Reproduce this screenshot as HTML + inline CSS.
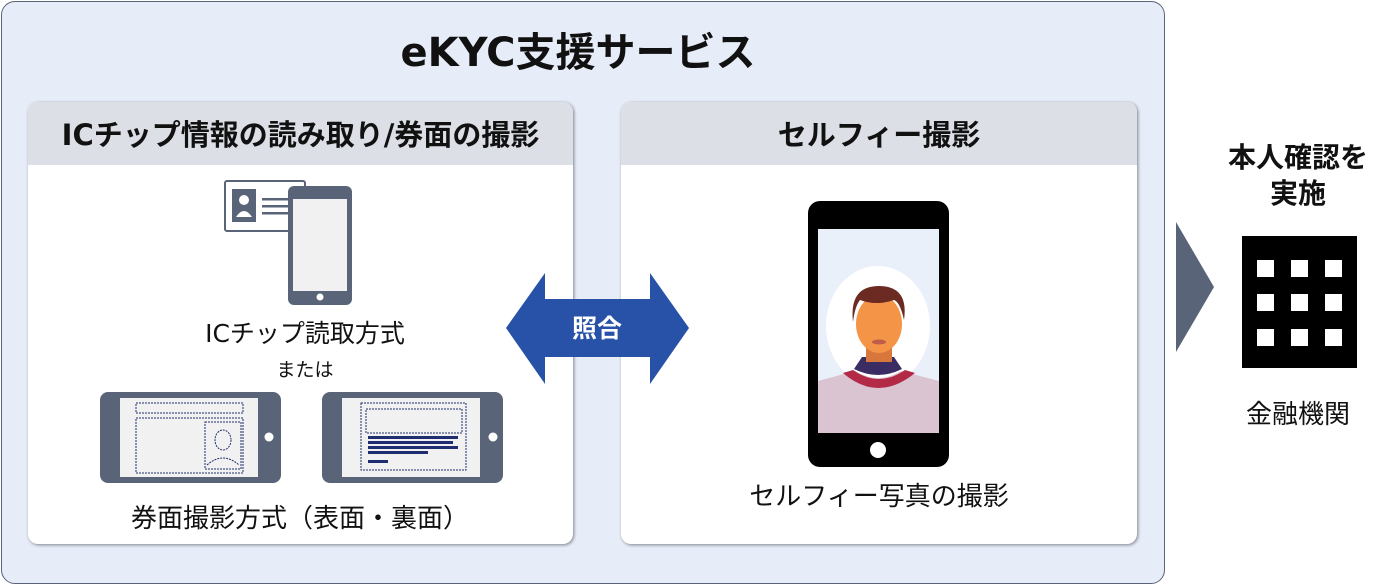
<!DOCTYPE html>
<html><head><meta charset="utf-8"><style>
body{margin:0;width:1394px;height:586px;background:#fff;position:relative;overflow:hidden;font-family:"DejaVu Sans","Noto Sans CJK JP",sans-serif;color:#111}
.abs{position:absolute}
.outer{left:1px;top:1px;width:1162px;height:581px;background:#e6ecf8;border:1.5px solid #5a6478;border-radius:14px}
.panel{background:#fff;border-radius:10px;box-shadow:1px 1px 3px rgba(0,0,0,.45);overflow:hidden;top:102px;height:442px}
.hdr{height:63px;background:#dcdfe5;text-align:center;line-height:66px;font-weight:bold;font-size:29px;white-space:nowrap}
.t{text-align:center;white-space:nowrap}
</style></head><body>
<div class="abs outer"></div>
<div class="abs t" style="left:328px;width:500px;top:20px;font-size:40px;font-weight:bold">eKYC支援サービス</div>
<div class="abs panel" style="left:28px;width:545px"><div class="hdr">ICチップ情報の読み取り/券面の撮影</div></div>
<div class="abs panel" style="left:621px;width:516px"><div class="hdr">セルフィー撮影</div></div>

<svg class="abs" style="left:0;top:0" width="1394" height="586">
<rect x="225" y="181" width="80" height="50" rx="2" fill="#fff" stroke="#5a6478" stroke-width="2"/>
<rect x="232" y="189" width="24" height="33" fill="#5a6478"/>
<circle cx="244" cy="200" r="5" fill="#fff"/><path d="M236 217 q8 -12 16 0z" fill="#fff"/>
<rect x="262" y="198" width="28" height="2.5" fill="#5a6478"/><rect x="262" y="205" width="28" height="2.5" fill="#5a6478"/><rect x="262" y="212" width="28" height="2.5" fill="#5a6478"/>
<rect x="288" y="186" width="64" height="119" rx="6" fill="#5a6478"/>
<rect x="293" y="199" width="54" height="92" fill="#f1f1f1"/>
<circle cx="320" cy="297" r="3.5" fill="#fff"/>
<rect x="100" y="392" width="181" height="91" rx="8" fill="#5a6478"/>
<rect x="120" y="398" width="138" height="79" fill="#f1f1f1"/>
<circle cx="269" cy="437" r="4.5" fill="#fff"/>
<g fill="none" stroke="#1f2e70" stroke-dasharray="2 1" stroke-width="1">
<rect x="136" y="403" width="107" height="10"/><rect x="136" y="418" width="107" height="55"/>
<rect x="205" y="422" width="36" height="47"/><ellipse cx="223" cy="440" rx="8" ry="10"/><path d="M207 465 q16 -14 32 0"/>
</g>
<rect x="322" y="392" width="181" height="91" rx="8" fill="#5a6478"/>
<rect x="342" y="398" width="138" height="79" fill="#f1f1f1"/>
<circle cx="493" cy="437" r="4.5" fill="#fff"/>
<g fill="none" stroke="#1f2e70" stroke-dasharray="2 1" stroke-width="1">
<rect x="361" y="403" width="105" height="67"/><rect x="366" y="409" width="96" height="24"/>
</g>
<g fill="#1f2e70"><rect x="368" y="436" width="90" height="3"/><rect x="368" y="441" width="85" height="3"/><rect x="368" y="446" width="90" height="3"/><rect x="368" y="451" width="60" height="3"/><rect x="368" y="460" width="20" height="3"/></g>
<polygon points="506,328 545,273 545,299 650,299 650,273 689,328 650,384 650,357 545,357 545,384" fill="#2752a8"/>
<text x="597" y="337" font-size="25" font-weight="bold" fill="#fff" text-anchor="middle" font-family="DejaVu Sans,Noto Sans CJK JP,sans-serif">照合</text>
<rect x="808" y="201" width="141" height="266" rx="12" fill="#000"/>
<rect x="818" y="229" width="121" height="204" fill="#eaf0f9"/>
<ellipse cx="878" cy="326" rx="52" ry="60" fill="#fff"/>
<path d="M818 381 l37 -10 q23 14 46 0 l38 10 v52 h-121z" fill="#dbc4d2"/>
<path d="M843 373 q35 30 72 0 l-10 -3 q-26 18 -52 0z" fill="#b22a45"/>
<path d="M854 369 l8 -12 h32 l8 12 q-24 12 -48 0z" fill="#3b2d63"/>
<rect x="866" y="346" width="26" height="16" fill="#d8773b"/>
<ellipse cx="879" cy="324" rx="23" ry="29" fill="#f49446"/>
<path d="M853 322 q-4 -36 26 -36 q30 0 25 34 q-4 -18 -10 -20 q-18 6 -34 0 q-5 6 -7 22z" fill="#6b2a22"/>
<ellipse cx="879" cy="342" rx="7" ry="2.5" fill="#c05c4a"/>
<circle cx="878" cy="450" r="8" fill="#fff"/>
<polygon points="1176,222 1214,287 1176,352" fill="#5a6478"/>
<rect x="1242" y="236" width="115" height="132" fill="#000"/>
<g fill="#fff">
<rect x="1257" y="260" width="17" height="17"/><rect x="1291" y="260" width="17" height="17"/><rect x="1325" y="260" width="17" height="17"/>
<rect x="1257" y="294" width="17" height="17"/><rect x="1291" y="294" width="17" height="17"/><rect x="1325" y="294" width="17" height="17"/>
<rect x="1257" y="329" width="17" height="17"/><rect x="1291" y="329" width="17" height="17"/><rect x="1325" y="329" width="17" height="17"/>
</g>
</svg>

<div class="abs t" style="left:155px;width:300px;top:314px;font-size:25px">ICチップ読取方式</div>
<div class="abs t" style="left:205px;width:200px;top:355px;font-size:19px">または</div>
<div class="abs t" style="left:80px;width:440px;top:498px;font-size:26px">券面撮影方式（表面・裏面）</div>
<div class="abs t" style="left:724px;width:310px;top:476px;font-size:26px">セルフィー写真の撮影</div>
<div class="abs t" style="left:1198px;width:200px;top:140px;font-size:28px;font-weight:bold;line-height:36px">本人確認を<br>実施</div>
<div class="abs t" style="left:1198px;width:200px;top:394px;font-size:26px">金融機関</div>
</body></html>
